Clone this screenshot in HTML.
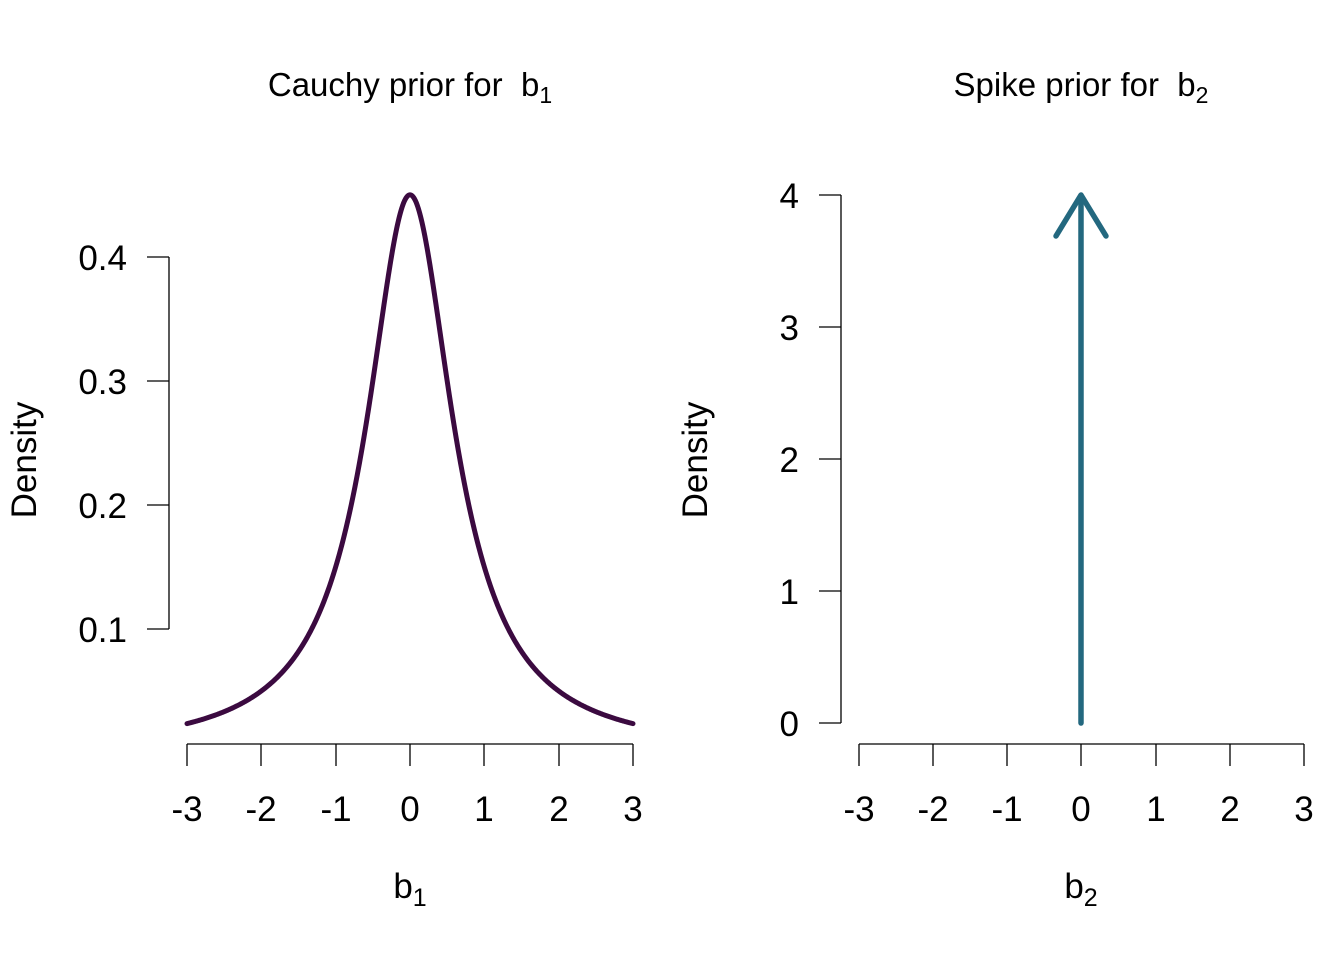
<!DOCTYPE html>
<html><head><meta charset="utf-8"><style>
html,body{margin:0;padding:0;background:#fff;}
svg{display:block;font-family:"Liberation Sans",Arial,sans-serif;}
</style></head><body>
<svg id="s" width="1344" height="960" viewBox="0 0 1344 960" xmlns="http://www.w3.org/2000/svg">
<rect width="1344" height="960" fill="#fff"/>
<text x="410" y="96" font-size="33" text-anchor="middle">Cauchy prior for&#160; b<tspan font-size="23" dy="7">1</tspan></text>
<g stroke="#000" stroke-width="1.3" fill="none">
<line x1="187" y1="744" x2="633" y2="744"/>
<line x1="187" y1="744" x2="187" y2="766"/><line x1="261" y1="744" x2="261" y2="766"/>
<line x1="336" y1="744" x2="336" y2="766"/><line x1="410" y1="744" x2="410" y2="766"/>
<line x1="484" y1="744" x2="484" y2="766"/><line x1="559" y1="744" x2="559" y2="766"/>
<line x1="633" y1="744" x2="633" y2="766"/>
<line x1="169" y1="257" x2="169" y2="629"/>
<line x1="147" y1="257" x2="169" y2="257"/><line x1="147" y1="381" x2="169" y2="381"/>
<line x1="147" y1="505" x2="169" y2="505"/><line x1="147" y1="629" x2="169" y2="629"/>
</g>
<g font-size="35" text-anchor="middle">
<text x="187" y="821">-3</text><text x="261" y="821">-2</text><text x="336" y="821">-1</text>
<text x="410" y="821">0</text><text x="484" y="821">1</text><text x="559" y="821">2</text><text x="633" y="821">3</text>
</g>
<g font-size="35" text-anchor="end">
<text x="127" y="270">0.4</text><text x="127" y="394">0.3</text><text x="127" y="518">0.2</text><text x="127" y="642">0.1</text>
</g>
<text transform="translate(36,460) rotate(-90)" font-size="35" text-anchor="middle">Density</text>
<text x="410" y="898" font-size="35" text-anchor="middle">b<tspan font-size="25" dy="8">1</tspan></text>
<path id="cauchy" fill="none" stroke="#3b0a40" stroke-width="5" stroke-linejoin="round" stroke-linecap="round"/>
<text x="1081" y="96" font-size="33" text-anchor="middle">Spike prior for&#160; b<tspan font-size="23" dy="7">2</tspan></text>
<g stroke="#000" stroke-width="1.3" fill="none">
<line x1="859" y1="744" x2="1304" y2="744"/>
<line x1="859" y1="744" x2="859" y2="766"/><line x1="933" y1="744" x2="933" y2="766"/>
<line x1="1007" y1="744" x2="1007" y2="766"/><line x1="1081" y1="744" x2="1081" y2="766"/>
<line x1="1156" y1="744" x2="1156" y2="766"/><line x1="1230" y1="744" x2="1230" y2="766"/>
<line x1="1304" y1="744" x2="1304" y2="766"/>
<line x1="841" y1="195" x2="841" y2="723"/>
<line x1="819" y1="195" x2="841" y2="195"/><line x1="819" y1="327" x2="841" y2="327"/>
<line x1="819" y1="459" x2="841" y2="459"/><line x1="819" y1="591" x2="841" y2="591"/>
<line x1="819" y1="723" x2="841" y2="723"/>
</g>
<g font-size="35" text-anchor="middle">
<text x="859" y="821">-3</text><text x="933" y="821">-2</text><text x="1007" y="821">-1</text>
<text x="1081" y="821">0</text><text x="1156" y="821">1</text><text x="1230" y="821">2</text><text x="1304" y="821">3</text>
</g>
<g font-size="35" text-anchor="end">
<text x="799" y="208">4</text><text x="799" y="340">3</text><text x="799" y="472">2</text><text x="799" y="604">1</text><text x="799" y="736">0</text>
</g>
<text transform="translate(707,460) rotate(-90)" font-size="35" text-anchor="middle">Density</text>
<text x="1081" y="898" font-size="35" text-anchor="middle">b<tspan font-size="25" dy="8">2</tspan></text>
<g stroke="#23687f" stroke-width="5.5" fill="none" stroke-linecap="round" stroke-linejoin="round">
<line x1="1081" y1="723" x2="1081" y2="196"/>
<polyline points="1056,236 1081,195 1106,236"/>
</g>
</svg>
<script>
(function(){
var s=Math.SQRT1_2,d="";
for(var i=0;i<=600;i++){
var x=-3+6*i/600;
var y=1/(Math.PI*s*(1+x*x/(s*s)));
var px=410+x*74.33, py=629-(y-0.1)*1240;
d+=(i?"L":"M")+px.toFixed(2)+","+py.toFixed(2);
}
document.getElementById("cauchy").setAttribute("d",d);
})();
</script>
</body></html>
